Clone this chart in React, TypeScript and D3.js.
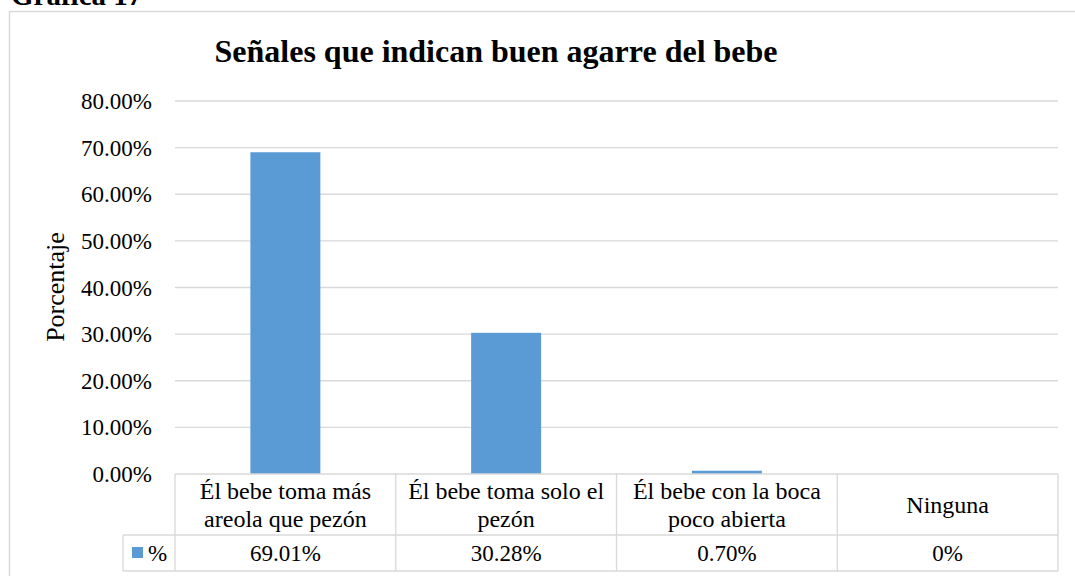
import React from "react";
import * as d3 from "d3";

const categories: string[][] = [
  ["Él bebe toma más", "areola que pezón"],
  ["Él bebe toma solo el", "pezón"],
  ["Él bebe con la boca", "poco abierta"],
  ["Ninguna"],
];
const values: number[] = [0.6901, 0.3028, 0.007, 0];
const valueLabels: string[] = ["69.01%", "30.28%", "0.70%", "0%"];
const yTicks: number[] = [0, 0.1, 0.2, 0.3, 0.4, 0.5, 0.6, 0.7, 0.8];
const seriesName = "%";
const title = "Señales que indican buen agarre del bebe";
const heading = "Gráfica 17";
const yLabel = "Porcentaje";

const W = 1075;
const H = 576;
const FONT = "'Liberation Serif', 'Times New Roman', serif";
const BLUE = "#5b9bd5";
const GRID = "#d9d9d9";

export default function App() {
  const left = 175;
  const right = 1058;
  const top = 101;
  const bottom = 474;
  const row1Bottom = 535;
  const row2Bottom = 571;
  const legendLeft = 123;

  const x = d3.scaleBand<number>().domain(d3.range(categories.length)).range([left, right]).paddingInner(0).paddingOuter(0);
  const y = d3.scaleLinear().domain([0, 0.8]).range([bottom, top]);
  const bw = x.bandwidth();
  const barW = bw * 0.317;

  return (
    <div style={{ position: "absolute", left: 0, top: 0 }}>
      <svg width={W} height={H} style={{ display: "block", background: "#fff" }}>
        <text x={11} y={5} fontFamily={FONT} fontWeight="bold" fontSize={29} fill="#000">{heading}</text>
        <rect x={9.5} y={11.5} width={W} height={H} fill="none" stroke={GRID} strokeWidth={1.5} />
        <text x={496} y={62} textAnchor="middle" fontFamily={FONT} fontWeight="bold" fontSize={32} fill="#000">{title}</text>
        {yTicks.map((t) => (
          <g key={t}>
            {t > 0 && <line x1={left} x2={right} y1={y(t)} y2={y(t)} stroke={GRID} strokeWidth={1.3} />}
            <text x={152} y={y(t) + 8} textAnchor="end" fontFamily={FONT} fontSize={23} fill="#000">{(t * 100).toFixed(2) + "%"}</text>
          </g>
        ))}
        <text transform={`translate(64,287) rotate(-90)`} textAnchor="middle" fontFamily={FONT} fontSize={26} fill="#000">{yLabel}</text>
        {values.map((v, i) => (
          <rect key={i} x={(x(i) as number) + (bw - barW) / 2} y={y(v)} width={barW} height={bottom - y(v)} fill={BLUE} />
        ))}
        {/* data table */}
        <g stroke={GRID} strokeWidth={1.3} fill="none">
          <line x1={left} x2={right} y1={bottom} y2={bottom} />
          <line x1={legendLeft} x2={right} y1={row1Bottom} y2={row1Bottom} />
          <line x1={legendLeft} x2={right} y1={row2Bottom} y2={row2Bottom} />
          <line x1={legendLeft} x2={legendLeft} y1={row1Bottom} y2={row2Bottom} />
          {d3.range(categories.length + 1).map((i) => {
            const xx = i < categories.length ? (x(i) as number) : right;
            return <line key={i} x1={xx} x2={xx} y1={bottom} y2={row2Bottom} />;
          })}
        </g>
        {categories.map((lines, i) => {
          const cx = (x(i) as number) + bw / 2;
          const mid = (bottom + row1Bottom) / 2;
          const lh = 28;
          const start = mid - ((lines.length - 1) * lh) / 2 + 8;
          return (
            <g key={i}>
              {lines.map((l, j) => (
                <text key={j} x={cx} y={start + j * lh} textAnchor="middle" fontFamily={FONT} fontSize={24} fill="#000">{l}</text>
              ))}
              <text x={cx} y={(row1Bottom + row2Bottom) / 2 + 8} textAnchor="middle" fontFamily={FONT} fontSize={23} fill="#000">{valueLabels[i]}</text>
            </g>
          );
        })}
        <rect x={132} y={547} width={11} height={11} fill={BLUE} />
        <text x={148} y={561} fontFamily={FONT} fontSize={23} fill="#000">{seriesName}</text>
      </svg>
    </div>
  );
}
